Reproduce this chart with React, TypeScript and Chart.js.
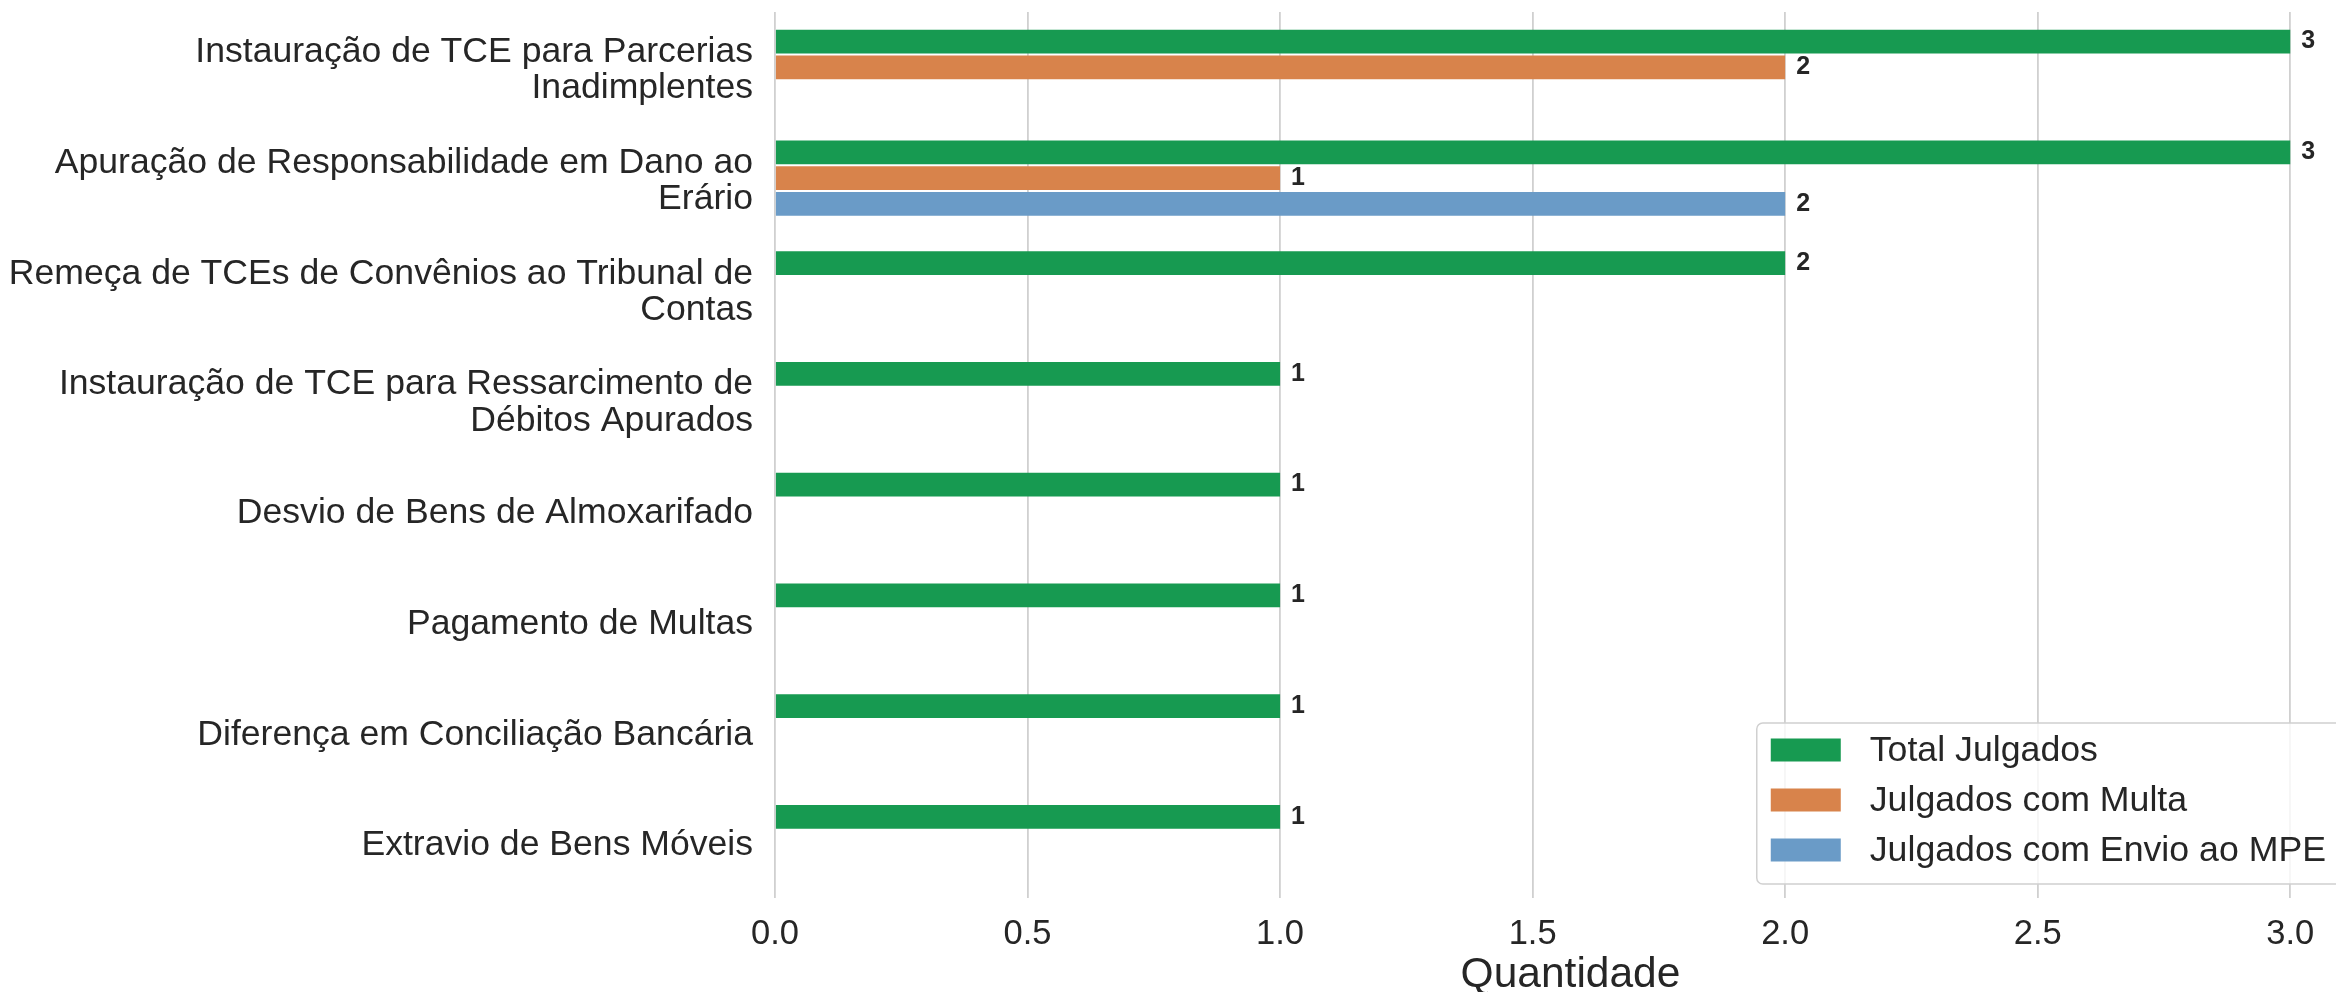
import React, { useEffect, useRef } from "react";
import { Chart, registerables } from "chart.js";

Chart.register(...registerables);

const categories: (string | string[])[] = [
  ["Instauração de TCE para Parcerias", "Inadimplentes"],
  ["Apuração de Responsabilidade em Dano ao", "Erário"],
  ["Remeça de TCEs de Convênios ao Tribunal de", "Contas"],
  ["Instauração de TCE para Ressarcimento de", "Débitos Apurados"],
  "Desvio de Bens de Almoxarifado",
  "Pagamento de Multas",
  "Diferença em Conciliação Bancária",
  "Extravio de Bens Móveis",
];

const totalJulgados = [3, 3, 2, 1, 1, 1, 1, 1];
const julgadosMulta = [2, 1, 0, 0, 0, 0, 0, 0];
const julgadosMPE = [0, 2, 0, 0, 0, 0, 0, 0];

const seriesNames = ["Total Julgados", "Julgados com Multa", "Julgados com Envio ao MPE"];
const seriesColors = ["#179a51", "#d8834b", "#6a9bc7"];

const xTicks = [0, 0.5, 1, 1.5, 2, 2.5, 3];
const xMax = 3.15;

const FONT = "'Liberation Sans', Arial, sans-serif";
const TEXT = "#262626";

const valueLabels = {
  id: "valueLabels",
  afterDatasetsDraw(chart: any) {
    const ctx = chart.ctx;
    ctx.save();
    ctx.font = `bold 25px ${FONT}`;
    ctx.fillStyle = TEXT;
    ctx.textAlign = "left";
    ctx.textBaseline = "middle";
    chart.data.datasets.forEach((ds: any, di: number) => {
      const meta = chart.getDatasetMeta(di);
      meta.data.forEach((bar: any, i: number) => {
        const v = ds.data[i];
        if (!v) return;
        ctx.fillText(String(v), bar.x + 11, bar.y);
      });
    });
    ctx.restore();
  },
};

const boxLegend = {
  id: "boxLegend",
  afterDraw(chart: any) {
    const ctx = chart.ctx;
    const area = chart.chartArea;
    ctx.save();
    ctx.font = `35.7px ${FONT}`;
    const maxW = Math.max(...seriesNames.map((n) => ctx.measureText(n).width));
    const swW = 70;
    const swH = 23;
    const padL = 14;
    const gap = 29;
    const padR = 30;
    const rowPitch = 50;
    const w = padL + swW + gap + maxW + padR;
    const h = 161;
    const right = area.right - 10;
    const bottom = area.bottom - 14;
    const left = right - w;
    const top = bottom - h;
    ctx.beginPath();
    ctx.roundRect(left, top, w, h, 6);
    ctx.fillStyle = "rgba(255,255,255,0.8)";
    ctx.fill();
    ctx.lineWidth = 1.5;
    ctx.strokeStyle = "#d0d0d0";
    ctx.stroke();
    seriesNames.forEach((name, i) => {
      const cy = top + 27 + i * rowPitch;
      ctx.fillStyle = seriesColors[i];
      ctx.fillRect(left + padL, cy - swH / 2, swW, swH);
      ctx.fillStyle = TEXT;
      ctx.textAlign = "left";
      ctx.textBaseline = "middle";
      ctx.fillText(name, left + padL + swW + gap, cy + 1);
    });
    ctx.restore();
  },
};

export default function App() {
  const ref = useRef<HTMLCanvasElement>(null);
  useEffect(() => {
    if (!ref.current) return;
    const chart = new Chart(ref.current, {
      type: "bar",
      data: {
        labels: categories as any,
        datasets: [
          { label: seriesNames[0], data: totalJulgados, backgroundColor: seriesColors[0] },
          { label: seriesNames[1], data: julgadosMulta, backgroundColor: seriesColors[1] },
          { label: seriesNames[2], data: julgadosMPE, backgroundColor: seriesColors[2] },
        ],
      },
      options: {
        indexAxis: "y",
        animation: false,
        responsive: false,
        devicePixelRatio: 1,
        datasets: { bar: { categoryPercentage: 0.7, barPercentage: 0.92 } },
        layout: { padding: { top: 12, right: 14, left: 0, bottom: 0 } },
        plugins: { legend: { display: false }, tooltip: { enabled: false } },
        scales: {
          x: {
            type: "linear",
            min: 0,
            max: xMax,
            afterBuildTicks: (scale: any) => {
              scale.ticks = xTicks.map((v) => ({ value: v }));
            },
            afterFit: (scale: any) => {
              scale.height = 94;
              scale.paddingLeft = 0;
              scale.paddingRight = 0;
            },
            ticks: {
              font: { family: FONT, size: 34.5 },
              color: TEXT,
              padding: 16,
              callback: (v: any) => Number(v).toFixed(1),
            },
            grid: { color: "#d0d0d0", lineWidth: 1.8, drawTicks: false },
            border: { display: false },
            title: {
              display: true,
              text: "Quantidade",
              font: { family: FONT, size: 42.5, lineHeight: 0.8 },
              color: TEXT,
              padding: { top: 0, bottom: 0 },
            },
          },
          y: {
            afterFit: (scale: any) => {
              scale.width = 775;
              scale.paddingTop = 0;
              scale.paddingBottom = 0;
            },
            ticks: {
              font: { family: FONT, size: 35.6, lineHeight: 1.02 },
              color: TEXT,
              padding: 22,
              labelOffset: 3,
            },
            grid: { display: false, drawTicks: false },
            border: { display: false },
          },
        },
      },
      plugins: [valueLabels, boxLegend],
    });
    return () => chart.destroy();
  }, []);
  return (
    <div style={{ position: "fixed", left: 0, top: 0, width: 2336, height: 992, overflow: "hidden", background: "#fff" }}>
      <canvas ref={ref} width={2380} height={992} style={{ width: 2380, height: 992, display: "block" }} />
    </div>
  );
}
